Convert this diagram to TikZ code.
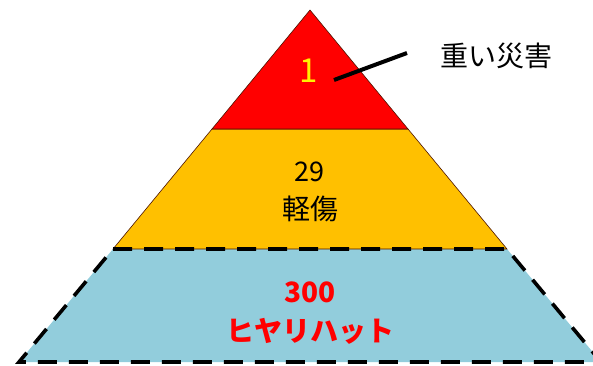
\documentclass[tikz,border=0pt]{standalone}
\usepackage{fontspec}
\setmainfont{Noto Sans CJK JP}
\newfontfamily\cjkbold{Noto Sans CJK JP Black}
\definecolor{topred}{HTML}{FF0000}
\definecolor{midgold}{HTML}{FFC000}
\definecolor{lowblue}{HTML}{92CDDC}
\definecolor{edgedark}{HTML}{7F1F00}
\begin{document}
\begin{tikzpicture}[x=1pt,y=-1pt,
  tier/.style={line width=0.6pt, draw=edgedark!60!black},
  dashtier/.style={line width=3.6pt, draw=black, dash pattern=on 19pt off 12pt},
  lbl/.style={font=\fontsize{27}{30}\selectfont, inner sep=0pt, anchor=center}
]
\useasboundingbox (0,0) rectangle (593,365);
\clip (0,0) rectangle (593,365);
\coordinate (A) at (310,10);
\coordinate (L1) at (212,129);
\coordinate (R1) at (408,129);
\coordinate (L2) at (113,249);
\coordinate (R2) at (507,249);
\coordinate (L3) at (19,362);
\coordinate (R3) at (601,362);
% bottom tier
\fill[lowblue] (L2) -- (R2) -- (R3) -- (L3) -- cycle;
% middle tier
\filldraw[fill=midgold, tier] (L1) -- (R1) -- (R2) -- (L2) -- cycle;
% top tier
\filldraw[fill=topred, tier] (A) -- (R1) -- (L1) -- cycle;
\draw[dashtier] (L2) -- (R2) -- (R3) -- (L3) -- cycle;
% labels
\node[lbl, text=yellow, font=\fontsize{33}{36}\selectfont] (one) at (309,71) {1};
\node[lbl] (n29) at (309,172) {29};
\node[lbl, font=\fontsize{28}{30}\selectfont] (kei) at (310,209) {軽傷};
\node[lbl, text=red, font=\cjkbold\fontsize{28}{30}\selectfont] (n300) at (310,292) {300};
\node[lbl, text=red, font=\cjkbold\fontsize{28}{30}\selectfont] (hiyari) at (310,331) {ヒヤリハット};
\node[lbl, anchor=west, font=\fontsize{28}{30}\selectfont] (jyu) at (440,56) {重い災害};
\coordinate (p1) at (334,80);
\coordinate (p2) at (407,53);
\draw[line width=4pt] (p1) -- (p2);
\end{tikzpicture}
\end{document}
